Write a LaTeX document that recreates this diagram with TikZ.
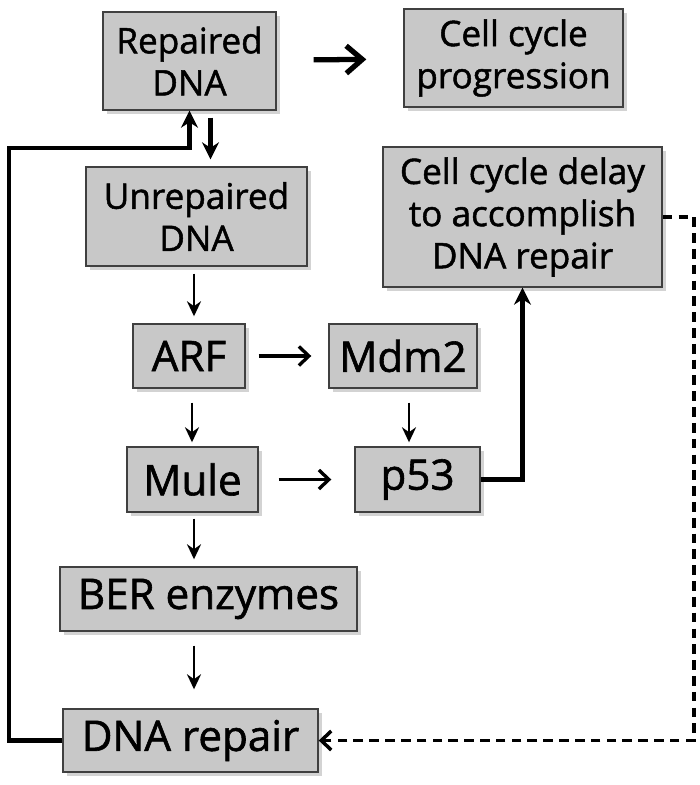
\documentclass[tikz,border=0pt]{standalone}
\usepackage{fontspec}
\setmainfont{Open Sans}[FakeBold=1.4]
\usepackage{tikz}
\usepackage{xcolor}
\usetikzlibrary{shapes.misc, positioning}
\usetikzlibrary{shapes.geometric, arrows.meta, shadows}
\definecolor{boxgray}{HTML}{C8C8C8}
\tikzstyle{process} = [rectangle, text centered, draw=black!75, line width=0.8pt, fill=boxgray, align=center, drop shadow={opacity=0.35, shadow xshift=0.07cm, shadow yshift=-0.07cm}]
\tikzstyle{twoline} = [process, font=\fontsize{20}{24}\selectfont]
\tikzstyle{oneline} = [process, font=\fontsize{24}{28}\selectfont]
\tikzstyle{arrow} = [line width=1.5pt,-{Stealth[length=0.3cm,width=0.28cm]}]
\tikzstyle{bigarrow} = [line width=2.5pt,-{Stealth[length=0.34cm,width=0.34cm]}]
\tikzstyle{harrow} = [line width=1.9pt,-{Straight Barb[length=0.2cm,width=0.38cm]}]

\begin{document}
\begin{tikzpicture}
    \useasboundingbox (0,0) rectangle (14,-15.7);
    \node (rep) [twoline, minimum width=3.46cm, minimum height=1.96cm] at (3.79,-1.22) {Repaired\\DNA};
    \node (prog) [twoline, minimum width=4.38cm, minimum height=1.96cm] at (10.27,-1.16) {Cell cycle\\progression};
    \node (unrep) [twoline, minimum width=4.42cm, minimum height=1.98cm] at (3.93,-4.33) {Unrepaired\\DNA};
    \node (delay) [twoline, minimum width=5.58cm, minimum height=2.8cm] at (10.45,-4.34) {Cell cycle delay\\to accomplish\\DNA repair};
    \node (arf) [oneline, minimum width=2.24cm, minimum height=1.28cm] at (3.78,-7.12) {ARF};
    \node (mdm2) [oneline, minimum width=2.96cm, minimum height=1.28cm] at (8.06,-7.12) {Mdm2};
    \node (mule) [oneline, minimum width=2.62cm, minimum height=1.3cm] at (3.85,-9.59) {Mule};
    \node (p53) [oneline, minimum width=2.5cm, minimum height=1.3cm] at (8.35,-9.59) {p53};
    \node (ber) [oneline, minimum width=5.94cm, minimum height=1.28cm] at (4.17,-11.98) {BER enzymes};
    \node (dnarep) [oneline, minimum width=5.1cm, minimum height=1.26cm] at (3.81,-14.81) {DNA repair};
    \coordinate (loopcorner) at (0.18,-2.96);
    \coordinate (dashcorner) at (13.88,-14.81);
    \draw[line width=3pt, -{Straight Barb[length=0.32cm,width=0.55cm]}, shorten <=0.74cm, shorten >=0.74cm] (rep)--(prog);
    \draw[bigarrow, shorten <=0.14cm, shorten >=0.14cm] ([xshift=0.42cm]rep.south)--([xshift=0.28cm]unrep.north);
    \draw[bigarrow, line width=2.3pt] (dnarep.west) -| (loopcorner) -| (rep.south);
    \draw[arrow, shorten <=0.14cm, shorten >=0.14cm] ([xshift=-0.05cm]unrep.south)--([xshift=-0.05cm]unrep.south |- arf.north);
    \draw[harrow, shorten <=0.26cm, shorten >=0.34cm] (arf)--(mdm2);
    \draw[arrow, shorten <=0.28cm, shorten >=0.08cm] ([xshift=0.06cm]arf.south)--([xshift=0.06cm]arf.south |- mule.north);
    \draw[arrow, shorten <=0.28cm, shorten >=0.08cm] ([xshift=0.12cm]mdm2.south)--([xshift=0.12cm]mdm2.south |- p53.north);
    \draw[harrow, shorten <=0.4cm, shorten >=0.46cm] (mule)--(p53);
    \draw[bigarrow, line width=2.3pt] (p53.east) -| (delay.south);
    \draw[arrow, shorten <=0.12cm, shorten >=0.14cm] ([xshift=0.03cm]mule.south)--([xshift=0.03cm]mule.south |- ber.north);
    \draw[arrow, shorten <=0.28cm, shorten >=0.38cm] ([xshift=0.07cm]dnarep.north |- ber.south)--([xshift=0.07cm]dnarep.north);
    \draw[harrow, line width=2pt, dash pattern=on 5.5pt off 3.5pt] (delay.east) -| (dashcorner) -- (dnarep.east);
\end{tikzpicture}
\end{document}
